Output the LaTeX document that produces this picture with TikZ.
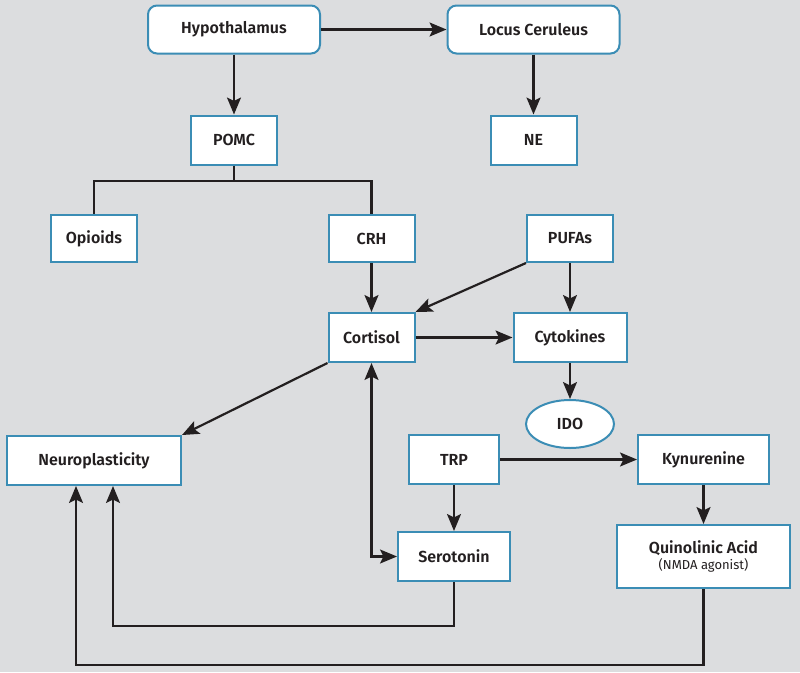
\documentclass[tikz,border=0pt]{standalone}
\usepackage{fontspec}
\setmainfont{Fira Sans}
\newfontfamily\lbl{Fira Sans SemiBold}
\usetikzlibrary{arrows.meta,shapes.geometric}
\definecolor{bg}{HTML}{DCDDDF}
\definecolor{bd}{HTML}{3B8DB5}
\definecolor{ln}{HTML}{231F20}
\tikzset{
  x=1pt,y=-1pt,
  box/.style={draw=bd,line width=2pt,fill=white,inner sep=0pt,font=\lbl\fontsize{16}{18}\selectfont,text=ln},
  rbox/.style={box,rounded corners=9pt},
  conn/.style={draw=ln,line width=2.2pt},
  arr/.style={conn,-{Stealth[length=17pt,width=14pt,inset=3.5pt]}},
  darr/.style={conn,{Stealth[length=17pt,width=14pt,inset=3.5pt]}-{Stealth[length=17pt,width=14pt,inset=3.5pt]}}
}
\begin{document}
\begin{tikzpicture}
\fill[bg] (0,0) rectangle (800,672);
\useasboundingbox (0,0) rectangle (800,672);
\node[rbox,minimum width=172pt,minimum height=48pt] (hyp) at (234,29.5) {Hypothalamus};
\node[rbox,minimum width=172pt,minimum height=48pt] (lc) at (533.5,29.5) {Locus Ceruleus};
\node[box,minimum width=86pt,minimum height=49pt] (pomc) at (234,140) {POMC};
\node[box,minimum width=86pt,minimum height=49pt] (ne) at (533.5,140) {NE};
\node[box,minimum width=86pt,minimum height=47pt] (op) at (94,238.5) {Opioids};
\node[box,minimum width=86pt,minimum height=47pt] (crh) at (371.5,238.5) {CRH};
\node[box,minimum width=86pt,minimum height=47pt] (pufa) at (570,238.5) {PUFAs};
\node[box,minimum width=86pt,minimum height=49pt] (cort) at (371.5,337.5) {Cortisol};
\node[box,minimum width=113pt,minimum height=49pt] (cyt) at (570,337.5) {Cytokines};
\node[box,ellipse,minimum width=88pt,minimum height=48pt] (ido) at (570,424) {IDO};
\node[box,minimum width=174pt,minimum height=49pt] (neuro) at (94,460.5) {Neuroplasticity};
\node[box,minimum width=90pt,minimum height=49pt] (trp) at (454,459.5) {TRP};
\node[box,minimum width=131pt,minimum height=49pt] (kyn) at (703.5,459.5) {Kynurenine};
\node[box,minimum width=112pt,minimum height=49pt] (ser) at (454,556.5) {Serotonin};
\node[box,minimum width=173pt,minimum height=63pt,align=center] (qa) at (703.5,556.5) {Quinolinic Acid\\[-2pt]{\rmfamily\fontsize{13}{15}\selectfont (NMDA agonist)}};
\coordinate (split) at (234,181);
\draw[arr] (hyp) -- (lc);
\draw[arr] (hyp) -- (pomc);
\draw[arr] (lc) -- (ne);
\draw[conn] (pomc.south) -- (split) -| (op.north);
\draw[conn] (split) -| (crh.north);
\draw[arr] (crh) -- (cort);
\draw[arr] (pufa.south west) -- (cort.north east);
\draw[arr] (pufa) -- (cyt);
\draw[arr] (cort) -- (cyt);
\draw[arr] (cyt) -- (ido);
\draw[arr] (cort.south west) -- (neuro.north east);
\draw[arr] (trp) -- (kyn);
\draw[arr] (trp) -- (ser);
\draw[arr] (kyn) -- (qa);
\draw[darr] (cort.south) |- (ser.west);
\draw[arr] (ser.south) -- ++(0,44) -| ([xshift=19pt]neuro.south);
\draw[arr] (qa.south) -- ++(0,76) -| ([xshift=-18pt]neuro.south);
\end{tikzpicture}
\end{document}
